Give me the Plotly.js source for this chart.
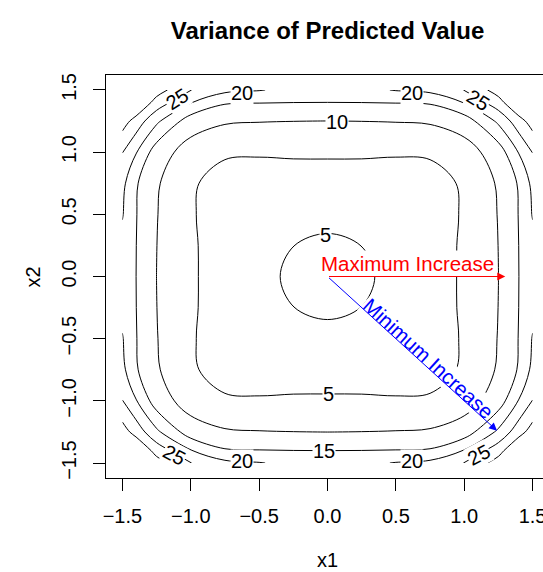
<!DOCTYPE html>
<html><head><meta charset="utf-8">
<script src="https://cdn.plot.ly/plotly-3.0.1.min.js"></script>
<style>html,body{margin:0;padding:0;overflow:hidden;background:#fff;} #plot{width:600px;height:572px;}</style>
</head><body><div id="plot"></div>
<script>
// grid coordinates of the estimated variance surface
const xGrid = [-1.5,-1.4,-1.25,-1,-0.75,-0.5,-0.25,0,0.25,0.5,0.75,1,1.25,1.4,1.5];
const yGrid = [-1.5,-1.4,-1.25,-1,-0.75,-0.5,-0.25,0,0.25,0.5,0.75,1,1.25,1.4,1.5];
// variance of predicted value, estimated from the contour picture (rows: y from -1.5 to 1.5)
const varianceGrid = [
  [47.0, 40.0, 32.3, 25.1, 21.3, 20.3, 18.6, 18.3, 18.6, 20.3, 21.3, 25.1, 32.3, 40.0, 47.0],
  [40.0, 35.4, 28.0, 20.3, 15.5, 15.2, 15.05, 15.0, 15.05, 15.2, 15.5, 20.3, 28.0, 35.4, 40.0],
  [32.3, 28.0, 21.0, 12.35, 10.57, 10.2, 10.05, 9.98, 10.05, 10.2, 10.57, 12.35, 21.0, 28.0, 32.3],
  [25.1, 20.3, 12.35, 7.83, 5.32, 5.24, 5.25, 5.2, 5.25, 5.24, 5.32, 7.83, 12.35, 20.3, 25.1],
  [21.3, 15.5, 10.57, 5.32, 4.0, 3.75, 4.1, 4.3, 4.1, 3.75, 4.0, 5.32, 10.57, 15.5, 21.3],
  [20.3, 15.2, 10.2, 5.24, 3.75, 3.8, 4.3, 4.6, 4.3, 3.8, 3.75, 5.24, 10.2, 15.2, 20.3],
  [18.6, 15.05, 10.05, 5.25, 4.1, 4.3, 4.99, 5.25, 4.99, 4.3, 4.1, 5.25, 10.05, 15.05, 18.6],
  [18.3, 15.0, 9.98, 5.2, 4.3, 4.6, 5.25, 5.6, 5.25, 4.6, 4.3, 5.2, 9.98, 15.0, 18.3],
  [18.6, 15.05, 10.05, 5.25, 4.1, 4.3, 4.99, 5.25, 4.99, 4.3, 4.1, 5.25, 10.05, 15.05, 18.6],
  [20.3, 15.2, 10.2, 5.24, 3.75, 3.8, 4.3, 4.6, 4.3, 3.8, 3.75, 5.24, 10.2, 15.2, 20.3],
  [21.3, 15.5, 10.57, 5.32, 4.0, 3.75, 4.1, 4.3, 4.1, 3.75, 4.0, 5.32, 10.57, 15.5, 21.3],
  [25.1, 20.3, 12.35, 7.83, 5.32, 5.24, 5.25, 5.2, 5.25, 5.24, 5.32, 7.83, 12.35, 20.3, 25.1],
  [32.3, 28.0, 21.0, 12.35, 10.57, 10.2, 10.05, 9.98, 10.05, 10.2, 10.57, 12.35, 21.0, 28.0, 32.3],
  [40.0, 35.4, 28.0, 20.3, 15.5, 15.2, 15.05, 15.0, 15.05, 15.2, 15.5, 20.3, 28.0, 35.4, 40.0],
  [47.0, 40.0, 32.3, 25.1, 21.3, 20.3, 18.6, 18.3, 18.6, 20.3, 21.3, 25.1, 32.3, 40.0, 47.0]
];
const contourLevels = [5, 30, 5]; // start, end, step

// contour labels as placed in the reference
const labelText  = ['5', '5', '10', '15', '20', '20', '20', '20', '25', '25', '25', '25'];
const labelX     = [-0.017, 0.008, 0.073, -0.024, -0.626, 0.617, -0.626, 0.617, -1.10, 1.10, -1.12, 1.105];
const labelY     = [0.335, -0.942, 1.239, -1.403, 1.475, 1.475, -1.486, -1.486, 1.427, 1.419, -1.438, -1.438];
const labelAngle = [0, 0, 0, 0, 0, 0, 0, 0, -32, 32, 28, -28];

// direction arrows
const arrowStart = [0, 0];
const maxIncreaseEnd = [1.30, 0];
const minIncreaseEnd = [1.24, -1.24];
const arrowText = ['Maximum Increase', 'Minimum Increase'];

const xTickVals = [-1.5, -1, -0.5, 0, 0.5, 1, 1.5];
const xTickText = ['\u22121.5', '\u22121.0', '\u22120.5', '0.0', '0.5', '1.0', '1.5'];
const yTickVals = [-1.5, -1, -0.5, 0, 0.5, 1, 1.5];
const yTickText = ['\u22121.5', '\u22121.0', '\u22120.5', '0.0', '0.5', '1.0', '1.5'];
const axisTitles = ['x1', 'x2'];

const FONT = 'Liberation Sans, Arial, Helvetica, sans-serif';

const trace = {
  type: 'contour', x: xGrid, y: yGrid, z: varianceGrid,
  autocontour: false,
  contours: {start: contourLevels[0], end: contourLevels[1], size: contourLevels[2], coloring: 'none', showlabels: false},
  line: {color: 'black', width: 1, smoothing: 1},
  showscale: false, hoverinfo: 'skip'
};

const annotations = [];
for (let i = 0; i < labelText.length; i++) {
  annotations.push({x: labelX[i], y: labelY[i], xref: 'x', yref: 'y', text: labelText[i], showarrow: false,
    textangle: labelAngle[i], font: {family: FONT, size: 20, color: 'black'}, bgcolor: 'white', borderpad: 0,
    xanchor: 'center', yanchor: 'middle'});
}
annotations.push({x: -0.06, y: 0.105, xref: 'x', yref: 'y', text: arrowText[0], showarrow: false,
  xanchor: 'left', yanchor: 'middle', font: {family: FONT, size: 20.5, color: 'red'}, bgcolor: 'white', borderpad: 1});
annotations.push({x: 0.742, y: -0.657, xref: 'x', yref: 'y', text: arrowText[1], showarrow: false, textangle: 42.3,
  xanchor: 'center', yanchor: 'middle', font: {family: FONT, size: 20.5, color: 'blue'}, bgcolor: 'white', borderpad: 1});
annotations.push({x: maxIncreaseEnd[0], y: maxIncreaseEnd[1], ax: arrowStart[0], ay: arrowStart[1], xref: 'x', yref: 'y',
  axref: 'x', ayref: 'y', text: '', showarrow: true, arrowhead: 2, arrowsize: 1.6, arrowwidth: 1, arrowcolor: 'red', standoff: 0, startstandoff: 0});
annotations.push({x: minIncreaseEnd[0], y: minIncreaseEnd[1], ax: arrowStart[0], ay: arrowStart[1], xref: 'x', yref: 'y',
  axref: 'x', ayref: 'y', text: '', showarrow: true, arrowhead: 2, arrowsize: 1.6, arrowwidth: 1, arrowcolor: 'blue', standoff: 0, startstandoff: 0});
// axis titles placed as in the reference
annotations.push({x: 0.5, y: -0.2035, xref: 'paper', yref: 'paper', text: axisTitles[0], showarrow: false,
  xanchor: 'center', yanchor: 'middle', font: {family: FONT, size: 20, color: 'black'}});
annotations.push({x: -0.1648, y: 0.5, xref: 'paper', yref: 'paper', text: axisTitles[1], showarrow: false, textangle: -90,
  xanchor: 'center', yanchor: 'middle', font: {family: FONT, size: 20, color: 'black'}});

const axisCommon = {
  range: [-1.62, 1.62], ticks: 'outside', ticklen: 12, tickwidth: 1, tickcolor: 'black',
  showline: true, mirror: true, linecolor: 'black', linewidth: 1, showgrid: false, zeroline: false,
  tickfont: {family: FONT, size: 20, color: 'black'}, automargin: false, fixedrange: true
};

const layout = {
  width: 600, height: 572,
  margin: {l: 106, r: 51, t: 75, b: 94, pad: 0},
  paper_bgcolor: 'white', plot_bgcolor: 'white', showlegend: false,
  font: {family: FONT, size: 20, color: 'black'},
  title: {text: '<b>Variance of Predicted Value</b>', font: {family: FONT, size: 24, color: 'black'},
    x: 0.5, xref: 'paper', xanchor: 'center', y: 1 - 31 / 572, yref: 'container', yanchor: 'middle'},
  xaxis: Object.assign({}, axisCommon, {tickvals: xTickVals, ticktext: xTickText, ticklabelstandoff: 8}),
  yaxis: Object.assign({}, axisCommon, {tickvals: yTickVals, ticktext: yTickText, tickangle: -90, ticklabelstandoff: 9}),
  annotations: annotations
};

Plotly.newPlot('plot', [trace], layout, {staticPlot: true, displayModeBar: false});
</script>
</body></html>
